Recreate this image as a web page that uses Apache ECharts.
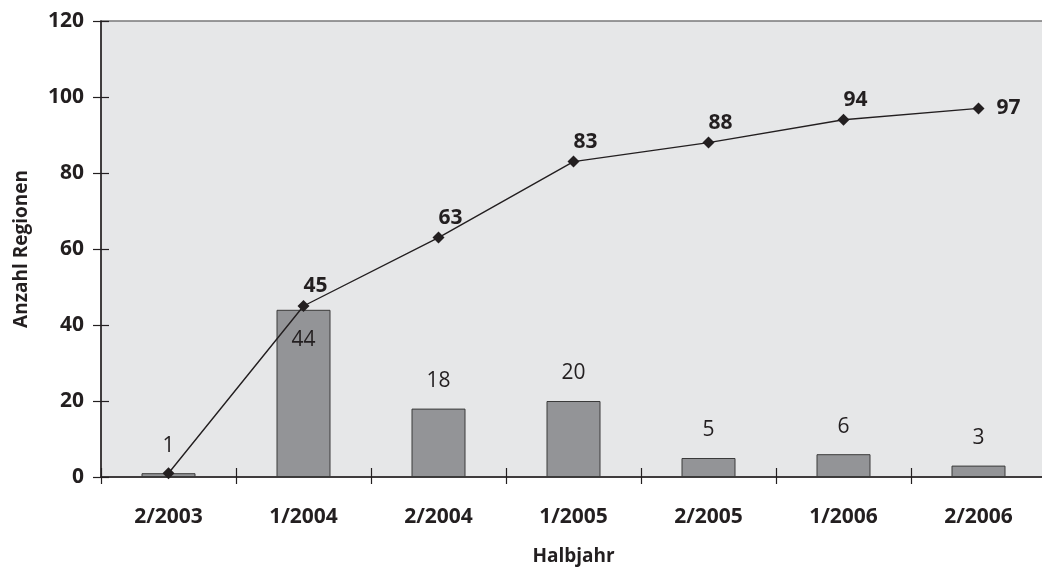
<!DOCTYPE html>
<html>
<head>
<meta charset="utf-8">
<script src="https://cdn.jsdelivr.net/npm/echarts@6/dist/echarts.min.js"></script>
<style>
  html, body { margin: 0; padding: 0; background: #fff; }
  #chart { width: 1042px; height: 572px; }
</style>
</head>
<body>
<div id="chart"></div>
<script>
// Half-years on the category axis
const halbjahre = ['2/2003', '1/2004', '2/2004', '1/2005', '2/2005', '1/2006', '2/2006'];
// New regions per half-year (bars)
const neueRegionen = [1, 44, 18, 20, 5, 6, 3];
// Cumulative number of regions (line)
const kumuliert = [1, 45, 63, 83, 88, 94, 97];
// Value axis ticks
const yTicks = [0, 20, 40, 60, 80, 100, 120];

const FONT = '"Open Sans", "Noto Sans", sans-serif';
const INK = '#231f20';

const yMin = yTicks[0];
const yMax = yTicks[yTicks.length - 1];
const yStep = yTicks[1] - yTicks[0];

const chart = echarts.init(document.getElementById('chart'), null, { renderer: 'canvas' });

// Bar labels: the tall 1/2004 bar carries its label inside, the others above
const barData = neueRegionen.map((v) => ({
  value: v,
  label: v > 40 ? { position: 'insideTop', distance: 20 } : {}
}));

// Line labels: first point unlabeled (bar label sits there), last one to the right
const lineData = kumuliert.map((v, i) => {
  if (i === 0) return { value: v, label: { show: false } };
  if (i === kumuliert.length - 1) return { value: v, label: { position: 'right', distance: 12, offset: [0, 0] } };
  return { value: v };
});

// Plot area extends a little past the right edge of the canvas
const plotLeft = 101;
const plotTop = 21;
const plotWidth = 945;
const plotHeight = 456;

chart.setOption({
  animation: false,
  textStyle: { fontFamily: FONT },
  grid: {
    left: plotLeft, top: plotTop, width: plotWidth, height: plotHeight,
    containLabel: false,
    outerBoundsMode: 'none',
    show: true,
    backgroundColor: '#e6e7e8',
    borderColor: '#7a7a7a',
    borderWidth: 1.5
  },
  xAxis: [{
    type: 'category',
    data: halbjahre,
    position: 'bottom',
    boundaryGap: true,
    axisLine: { lineStyle: { color: INK, width: 1.5 } },
    axisTick: { show: true, inside: true, length: 9, lineStyle: { color: INK, width: 1.2 } },
    axisLabel: { color: INK, fontFamily: FONT, fontWeight: 'bold', fontSize: 21, margin: 30 },
    name: 'Halbjahr',
    nameLocation: 'middle',
    nameGap: 70,
    nameTextStyle: { color: INK, fontFamily: FONT, fontWeight: 'bold', fontSize: 19 }
  }, {
    // second copy of the category axis, placed on the baseline, for the downward half of each tick
    type: 'category',
    data: halbjahre,
    position: 'top',
    offset: -plotHeight,
    boundaryGap: true,
    axisLine: { show: false },
    axisTick: { show: true, inside: true, length: 7, lineStyle: { color: INK, width: 1.2 } },
    axisLabel: { show: false }
  }],
  yAxis: [{
    type: 'value',
    min: yMin, max: yMax, interval: yStep,
    position: 'left',
    axisLine: { show: true, lineStyle: { color: INK, width: 1.5 } },
    axisTick: { show: true, inside: false, length: 8, lineStyle: { color: INK, width: 1.2 } },
    axisLabel: { color: INK, fontFamily: FONT, fontWeight: 'bold', fontSize: 21, margin: 17 },
    splitLine: { show: false },
    name: 'Anzahl Regionen',
    nameLocation: 'middle',
    nameGap: 70,
    nameRotate: 90,
    nameTextStyle: { color: INK, fontFamily: FONT, fontWeight: 'bold', fontSize: 19 }
  }, {
    // right-positioned copy shifted onto the left edge, for the inward half of each tick
    type: 'value',
    min: yMin, max: yMax, interval: yStep,
    position: 'right',
    offset: -plotWidth,
    axisLine: { show: false },
    axisTick: { show: true, inside: false, length: 8, lineStyle: { color: INK, width: 1.2 } },
    axisLabel: { show: false },
    splitLine: { show: false }
  }],
  series: [{
    name: 'Neue Regionen',
    type: 'bar',
    data: barData,
    barWidth: 54,
    itemStyle: { color: '#939497', borderColor: '#3a3a3a', borderWidth: 1 },
    label: {
      show: true, position: 'top', distance: 17,
      color: INK, fontFamily: FONT, fontSize: 21, fontWeight: 'normal'
    },
    z: 2
  }, {
    name: 'Regionen kumuliert',
    type: 'line',
    data: lineData,
    symbol: 'diamond',
    symbolSize: 12,
    lineStyle: { color: INK, width: 1.4 },
    itemStyle: { color: INK },
    label: {
      show: true, position: 'top', distance: 3, offset: [12, 0],
      color: INK, fontFamily: FONT, fontSize: 21, fontWeight: 'bold'
    },
    z: 5
  }]
});
</script>
</body>
</html>
